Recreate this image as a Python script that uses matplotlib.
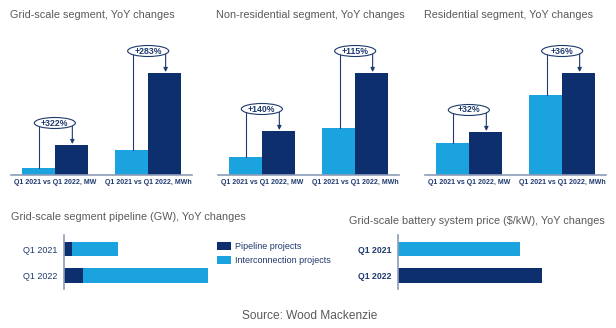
import matplotlib.pyplot as plt
from matplotlib.patches import Ellipse

plt.rcParams["font.family"] = ["Liberation Sans", "DejaVu Sans"]

LIGHT = "#1ba3e0"
DARK = "#0d2f6e"
NAVY = "#1f3a6e"
GRAY = "#5a5a5a"
AXIS = "#8e9cb8"

# top panels: [Q1 2021, Q1 2022] for the MW group and the MWh group
groups = ["Q1 2021 vs Q1 2022, MW", "Q1 2021 vs Q1 2022, MWh"]
grid_q1_2021 = [7, 25]
grid_q1_2022 = [30, 102]
grid_pct = ["+322%", "+283%"]
nonres_q1_2021 = [18, 47]
nonres_q1_2022 = [44, 102]
nonres_pct = ["+140%", "+115%"]
res_q1_2021 = [32, 80]
res_q1_2022 = [43, 102]
res_pct = ["+32%", "+36%"]

# bottom panels
years = ["Q1 2021", "Q1 2022"]
pipeline = [8, 19]
interconnection = [46, 125]
battery_price = [122, 144]

W, H = 616, 328
fig = plt.figure(figsize=(W / 100, H / 100), dpi=100)


def rect(left, top, right, bottom):
    return [left / W, 1 - bottom / H, (right - left) / W, (bottom - top) / H]


def title(x, y, s):
    fig.text(x / W, 1 - y / H, s, fontsize=7.8, color=GRAY,
             va="center", ha="left")


def top_panel(left, v21, v22, pct):
    ax = fig.add_axes(rect(left, 60, left + 181, 175))
    bw = 0.355
    x = [0, 1]
    ax.bar([i - bw / 2 for i in x], v21, bw, color=LIGHT, zorder=2)
    ax.bar([i + bw / 2 for i in x], v22, bw, color=DARK, zorder=2)
    ax.set_xlim(-0.47, 1.47)
    ax.set_ylim(0, 115)
    for s in ["top", "right", "left"]:
        ax.spines[s].set_visible(False)
    ax.spines["bottom"].set_color(AXIS)
    ax.spines["bottom"].set_linewidth(1.2)
    ax.set_yticks([])
    ax.set_xticks(x)
    ax.set_xticklabels(groups, fontsize=5.0, color=NAVY, fontweight="bold")
    ax.tick_params(axis="x", length=0, pad=3)
    for i in x:
        ey = v22[i] + 22
        xl = i - bw / 2 + 0.01
        xr = i + bw / 2 + 0.01
        ax.plot([xl, xl], [v21[i], ey], color=NAVY, lw=0.8, zorder=3,
                clip_on=False)
        ax.annotate("", xy=(xr, v22[i] + 1), xytext=(xr, ey),
                    arrowprops=dict(arrowstyle="-|>", color=NAVY, lw=0.8,
                                    mutation_scale=6, shrinkA=0, shrinkB=0),
                    zorder=3, annotation_clip=False)
        ax.add_patch(Ellipse((i, ey), 0.44, 11, facecolor="white",
                             edgecolor=NAVY, lw=0.8, zorder=4, clip_on=False))
        ax.text(i, ey, pct[i], ha="center", va="center", fontsize=6.3,
                fontweight="bold", color=NAVY, zorder=5, clip_on=False)
    return ax


top_panel(11, grid_q1_2021, grid_q1_2022, grid_pct)
title(10, 15, "Grid-scale segment, YoY changes")
top_panel(218, nonres_q1_2021, nonres_q1_2022, nonres_pct)
title(216, 15, "Non-residential segment, YoY changes")
top_panel(425, res_q1_2021, res_q1_2022, res_pct)
title(424, 15, "Residential segment, YoY changes")


def bottom_axes(left, right):
    ax = fig.add_axes(rect(left, 235, right, 289))
    ax.set_xlim(0, right - left)
    for s in ["top", "right", "bottom"]:
        ax.spines[s].set_visible(False)
    ax.spines["left"].set_color(AXIS)
    ax.spines["left"].set_linewidth(1.2)
    ax.set_xticks([])
    ax.tick_params(axis="y", length=0, pad=5)
    return ax


ax4 = bottom_axes(64, 215)
ax4.barh(years, pipeline, 0.55, color=DARK, label="Pipeline projects")
ax4.barh(years, interconnection, 0.55, left=pipeline, color=LIGHT,
         label="Interconnection projects")
ax4.set_yticks([0, 1])
ax4.set_yticklabels(years, fontsize=6.5, color=NAVY)
ax4.set_ylim(1.51, -0.53)
title(11, 217, "Grid-scale segment pipeline (GW), YoY changes")
fig.legend(*ax4.get_legend_handles_labels(), loc="upper left",
           bbox_to_anchor=(217 / W, 1 - 242 / H), frameon=False,
           fontsize=6.5, labelcolor=NAVY, handlelength=1.55, handleheight=1.0,
           handletextpad=0.45, labelspacing=0.5, borderpad=0, borderaxespad=0)

ax5 = bottom_axes(398, 560)
ax5.barh(years, battery_price, 0.55, color=[LIGHT, DARK])
ax5.set_yticks([0, 1])
ax5.set_yticklabels(years, fontsize=6.3, color=NAVY, fontweight="bold")
ax5.set_ylim(1.51, -0.53)
title(349, 221, "Grid-scale battery system price ($/kW), YoY changes")

fig.text(310 / W, 1 - 316 / H, "Source: Wood Mackenzie", fontsize=8.6,
         color=GRAY, ha="center", va="center")

fig.savefig("out.png", dpi=100)
